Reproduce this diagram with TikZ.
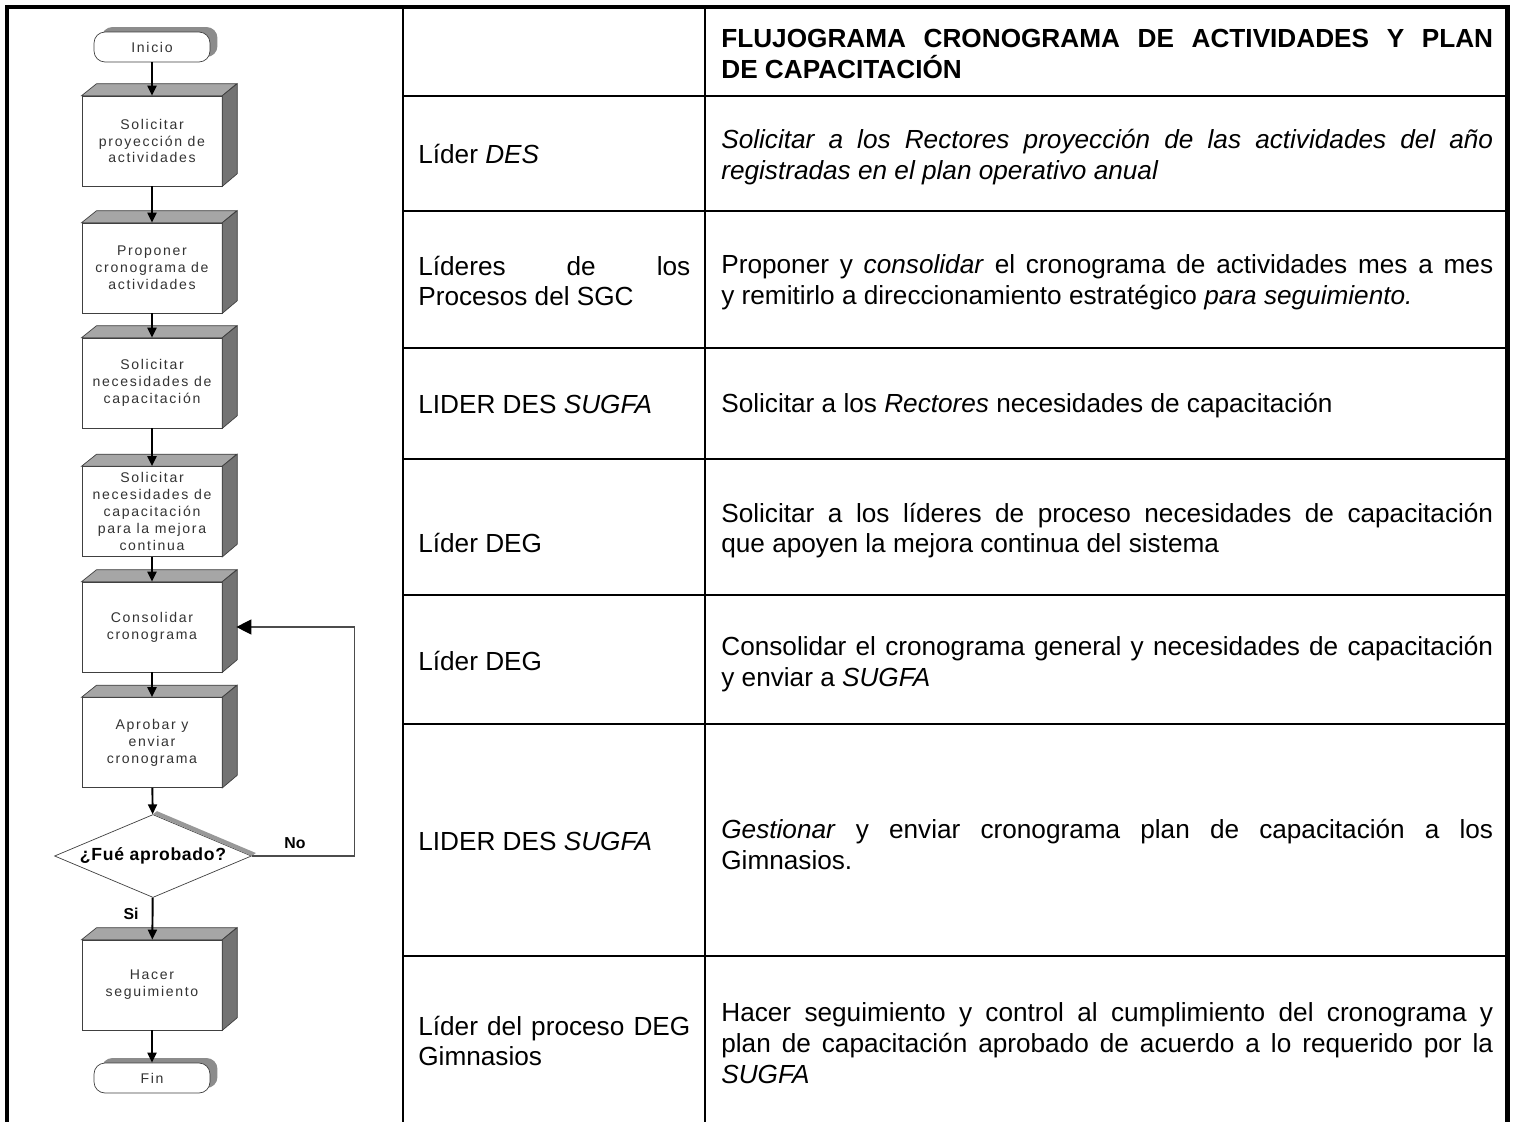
\documentclass[tikz,border=0pt]{standalone}
\usepackage{fontspec}
\setmainfont{Liberation Sans}
\newfontfamily\boxfont[LetterSpace=12]{Liberation Sans}
\newfontfamily\decfont[LetterSpace=4]{Liberation Sans}
\usetikzlibrary{shapes.geometric, arrows.meta, shadows, calc}

\begin{document}
\begin{tikzpicture}[x=0.02cm, y=-0.02cm,
	proc/.style={draw=black!75, fill=white, minimum width=2.8cm, minimum height=1.8cm, inner sep=0pt, align=center, text=black!80, font={\boxfont\fontsize{8}{9.6}\selectfont}},
	term/.style={draw=black!75, fill=white, rounded corners=0.22cm, minimum width=2.32cm, minimum height=0.6cm, inner sep=0pt, text=black!80, font={\boxfont\fontsize{8}{9.6}\selectfont}, general shadow={fill=black!45, shadow xshift=0.15cm, shadow yshift=0.1cm}},
	decision/.style={diamond, draw=black!75, fill=white, minimum width=3.94cm, minimum height=1.66cm, aspect=2.37, inner sep=0pt, font={\decfont\bfseries\fontsize{10}{11}\selectfont}},
	flow/.style={line width=1.1pt, -{Triangle[length=0.2cm,width=0.18cm]}},
	cell/.style={anchor=west, align=justify, inner sep=0pt, font={\fontsize{14.9}{17.5}\selectfont}},
	rule/.style={line width=1.1pt}
	]
	\useasboundingbox (0,0) rectangle (1516,1122);

	% marco de la tabla
	\draw[line width=2.3pt] (5,7) -- (1510,7);
	\draw[line width=2.3pt] (7,5) -- (7,1122);
	\draw[line width=3.4pt] (1507.5,5) -- (1507.5,1122);
	\draw[rule] (403,7) -- (403,1122);
	\draw[rule] (705,7) -- (705,1122);
	\foreach \y in {96,211,348,459,595,724,956}
		\draw[rule] (403,\y) -- (1507,\y);

	% textos de la tabla
	\node[cell, text width=15.44cm] (hdr) at (721,54) {\bfseries FLUJOGRAMA CRONOGRAMA DE ACTIVIDADES Y PLAN\linebreak DE CAPACITACIÓN};
	\node[cell, text width=5.44cm] (r1) at (418,154) {Líder \textit{DES}};
	\node[cell, text width=15.44cm] (d1) at (721,157) {\itshape Solicitar a los Rectores proyección de las actividades del año\linebreak registradas en el plan operativo anual};
	\node[cell, text width=5.44cm] (r2) at (418,281) {Líderes de los\linebreak Procesos del SGC};
	\node[cell, text width=15.44cm] (d2) at (721,282.5) {Proponer y \textit{consolidar} el cronograma de actividades mes a mes\linebreak y remitirlo a direccionamiento estratégico \textit{para seguimiento.}};
	\node[cell, text width=5.44cm] (r3) at (418,404) {LIDER DES \textit{SUGFA}};
	\node[cell, text width=15.44cm] (d3) at (721,406) {Solicitar a los \textit{Rectores} necesidades de capacitación};
	\node[cell, text width=5.44cm] (r4) at (418,543) {Líder DEG};
	\node[cell, text width=15.44cm] (d4) at (721,530.5) {Solicitar a los líderes de proceso necesidades de capacitación\linebreak que apoyen la mejora continua del sistema};
	\node[cell, text width=5.44cm] (r5) at (418,661) {Líder DEG};
	\node[cell, text width=15.44cm] (d5) at (721,664) {Consolidar el cronograma general y necesidades de capacitación\linebreak y enviar a \textit{SUGFA}};
	\node[cell, text width=5.44cm] (r6) at (418,841) {LIDER DES \textit{SUGFA}};
	\node[cell, text width=15.44cm] (d6) at (721,844.5) {\textit{Gestionar} y enviar cronograma plan de capacitación a los\linebreak Gimnasios.};
	\node[cell, text width=5.44cm] (r7) at (418,1041) {Líder del proceso DEG\linebreak Gimnasios};
	\node[cell, text width=15.44cm] (d7) at (721,1043) {Hacer seguimiento y control al cumplimiento del cronograma y\linebreak plan de capacitación aprobado de acuerdo a lo requerido por la\linebreak \textit{SUGFA}};

	% flujograma
	\node[term] (ini) at (152,47) {Inicio};
	\node[proc] (s1) at (152,141) {Solicitar\\proyección de\\actividades};
	\node[proc] (s2) at (152,268) {Proponer\\cronograma de\\actividades};
	\node[proc] (s3) at (152,383) {Solicitar\\necesidades de\\capacitación};
	\node[proc] (s4) at (152,511.5) {Solicitar\\necesidades de\\capacitación\\para la mejora\\continua};
	\node[proc] (s5) at (152,627) {Consolidar\\cronograma};
	\node[proc] (s6) at (152,742.5) {Aprobar y\\enviar\\cronograma};
	\node[decision] (dec) at (153,856) {¿Fué aprobado?};
	\node[proc] (s7) at (152,985) {Hacer\\seguimiento};
	\node[term] (fin) at (152,1078) {Fin};

	\foreach \b in {s1,s2,s3,s4,s5,s6,s7}{
		\filldraw[draw=black!75, fill=black!35] (\b.north west) -- ++(15,-12) -- ++(140,0) -- (\b.north east) -- cycle;
		\filldraw[draw=black!75, fill=black!55] (\b.north east) -- ++(15,-12) -- ++(0,90) -- (\b.south east) -- cycle;
	}
	\fill[black!40] (dec.north) -- ++(4,-3) -- ($(dec.east)+(4,-3)$) -- (dec.east) -- cycle;

	\draw[flow] (ini) -- (s1);
	\draw[flow] (s1) -- (s2);
	\draw[flow] (s2) -- (s3);
	\draw[flow] (s3) -- (s4);
	\draw[flow] (s4) -- (s5);
	\draw[flow] (s5) -- (s6);
	\draw[flow] (s6) -- (dec);
	\draw[flow] (dec) -- (s7);
	\draw[flow] (s7) -- (fin);
	\draw[line width=0.6pt, black!70, -{Triangle[length=0.3cm,width=0.3cm,black]}] (dec.east) -- ++(103,0) |- ([xshift=0.28cm]s5.east);

	\node[font={\bfseries\fontsize{9}{10}\selectfont}] (no) at (295,843) {No};
	\node[font={\bfseries\fontsize{9}{10}\selectfont}] (si) at (131,914) {Si};
\end{tikzpicture}
\end{document}
